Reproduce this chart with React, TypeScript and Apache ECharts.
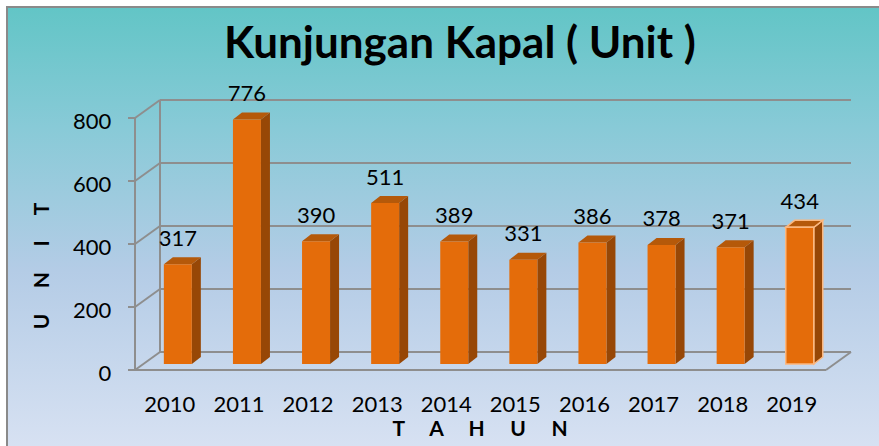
import React, { useEffect, useRef } from "react";
import * as echarts from "echarts";

const years = ["2010", "2011", "2012", "2013", "2014", "2015", "2016", "2017", "2018", "2019"];
const visits = [317, 776, 390, 511, 389, 331, 386, 378, 371, 434];
const yTicks = [0, 200, 400, 600, 800];
const titleText = "Kunjungan Kapal ( Unit )";
const xName = "T     A     H     U     N";
const yName = "U     N     I     T";
const highlighted = "2019";

const FRONT = "#E46C0A";
const SIDE = "#974706";
const TOP = "#B5590A";
const GRID = "#8E8E8E";
const FONT = "Lato, 'Open Sans', sans-serif";

// perspective offsets (front plane and back plane relative to bar plane)
const FX = -8.3, FY = 6;
const BX = 16.7, BY = -12;

export default function App() {
  const ref = useRef<HTMLDivElement>(null);
  useEffect(() => {
    if (!ref.current) return;
    const chart = echarts.init(ref.current, null, { renderer: "svg" });
    chart.setOption({
      animation: false,
      title: {
        text: titleText,
        left: 455,
        top: 14,
        textAlign: "center",
        textStyle: { fontFamily: FONT, fontWeight: "bold", fontSize: 44, color: "#000" },
      },
      graphic: [
        {
          type: "rect",
          z: -10,
          shape: { x: 7, y: 7, width: 900, height: 480 },
          style: {
            fill: new echarts.graphic.LinearGradient(0, 0, 0, 1, [
              { offset: 0, color: "#62C5C6" },
              { offset: 0.25, color: "#88CAD7" },
              { offset: 0.55, color: "#B4CCE6" },
              { offset: 1, color: "#DFE6F5" },
            ]),
            stroke: "#8A8A8A",
            lineWidth: 2,
          },
        },
        {
          type: "text",
          x: 480,
          y: 427,
          style: {
            text: xName,
            font: `bold 21px ${FONT}`,
            lineHeight: 18,
            fill: "#000",
            align: "center",
            verticalAlign: "middle",
          },
        },
        {
          type: "text",
          x: 40,
          y: 266,
          rotation: Math.PI / 2,
          style: {
            text: yName,
            font: `bold 21px ${FONT}`,
            fill: "#000",
            align: "center",
            verticalAlign: "middle",
          },
        },
      ],
      grid: { left: 143.3, right: 44.7, top: 112, bottom: 82 },
      xAxis: {
        type: "category",
        data: years,
        axisLine: { show: false },
        axisTick: { show: false },
        axisLabel: {
          fontFamily: FONT,
          fontSize: 22,
          lineHeight: 18,
          color: "#000",
          margin: 39,
          verticalAlign: "middle",
          padding: [0, 16, 0, 0],
        },
      },
      yAxis: {
        type: "value",
        min: 0,
        max: 800,
        interval: 200,
        axisLine: { show: false },
        axisTick: { show: false },
        splitLine: { show: false },
        axisLabel: {
          fontFamily: FONT,
          fontSize: 22,
          lineHeight: 17,
          color: "#000",
          margin: 32,
          verticalAlign: "top",
        },
      },
      series: [
        {
          type: "custom",
          z: 1,
          silent: true,
          data: yTicks.map((t) => [0, t]),
          encode: { x: 0, y: 1 },
          renderItem: (params: any, api: any) => {
            const cs = params.coordSys;
            const L = cs.x;
            const R = cs.x + cs.width;
            const v = api.value(1);
            const y = api.coord([0, v])[1];
            const ls = { stroke: GRID, lineWidth: 2, fill: "none" };
            const children: any[] = [
              { type: "line", shape: { x1: L + BX, y1: y + BY, x2: R + BX, y2: y + BY }, style: ls },
              { type: "line", shape: { x1: L + FX, y1: y + FY, x2: L + BX, y2: y + BY }, style: ls },
              { type: "line", shape: { x1: L + FX - 7, y1: y + FY, x2: L + FX, y2: y + FY }, style: ls },
            ];
            if (v === yTicks[0]) {
              const yTop = api.coord([0, yTicks[yTicks.length - 1]])[1];
              children.push(
                { type: "line", shape: { x1: L + FX, y1: y + FY, x2: R + FX, y2: y + FY }, style: ls },
                { type: "line", shape: { x1: R + FX, y1: y + FY, x2: R + BX, y2: y + BY }, style: ls },
                { type: "line", shape: { x1: L + FX, y1: y + FY, x2: L + FX, y2: yTop + FY }, style: ls },
                { type: "line", shape: { x1: L + BX, y1: y + BY, x2: L + BX, y2: yTop + BY }, style: ls }
              );
            }
            return { type: "group", children };
          },
        },
        {
          type: "custom",
          z: 3,
          data: visits.map((v, i) => [i, v]),
          encode: { x: 0, y: 1 },
          renderItem: (params: any, api: any) => {
            const i = api.value(0);
            const v = api.value(1);
            const base = api.coord([i, 0]);
            const top = api.coord([i, v]);
            const cx = base[0];
            const hw = 14;
            const dx = 9;
            const dy = 7;
            const hl = years[i] === highlighted;
            const stroke = hl ? { stroke: "#FBB77F", lineWidth: 1.5 } : {};
            return {
              type: "group",
              children: [
                {
                  type: "polygon",
                  shape: {
                    points: [
                      [cx + hw, top[1]],
                      [cx + hw + dx, top[1] - dy],
                      [cx + hw + dx, base[1] - dy],
                      [cx + hw, base[1]],
                    ],
                  },
                  style: { fill: SIDE, ...stroke },
                },
                {
                  type: "polygon",
                  shape: {
                    points: [
                      [cx - hw, top[1]],
                      [cx - hw + dx, top[1] - dy],
                      [cx + hw + dx, top[1] - dy],
                      [cx + hw, top[1]],
                    ],
                  },
                  style: { fill: TOP, ...stroke },
                },
                {
                  type: "rect",
                  shape: { x: cx - hw, y: top[1], width: hw * 2, height: base[1] - top[1] },
                  style: { fill: FRONT, ...stroke },
                },
                {
                  type: "text",
                  x: cx,
                  y: top[1] - dy - 9,
                  style: {
                    text: String(v),
                    font: `22px ${FONT}`,
                    fill: "#000",
                    align: "center",
                    verticalAlign: "bottom",
                  },
                },
              ],
            };
          },
        },
      ],
    });
    return () => chart.dispose();
  }, []);
  return (
    <div
      ref={ref}
      style={{ position: "fixed", left: 0, top: 0, width: 879, height: 446, background: "#fff" }}
    />
  );
}
